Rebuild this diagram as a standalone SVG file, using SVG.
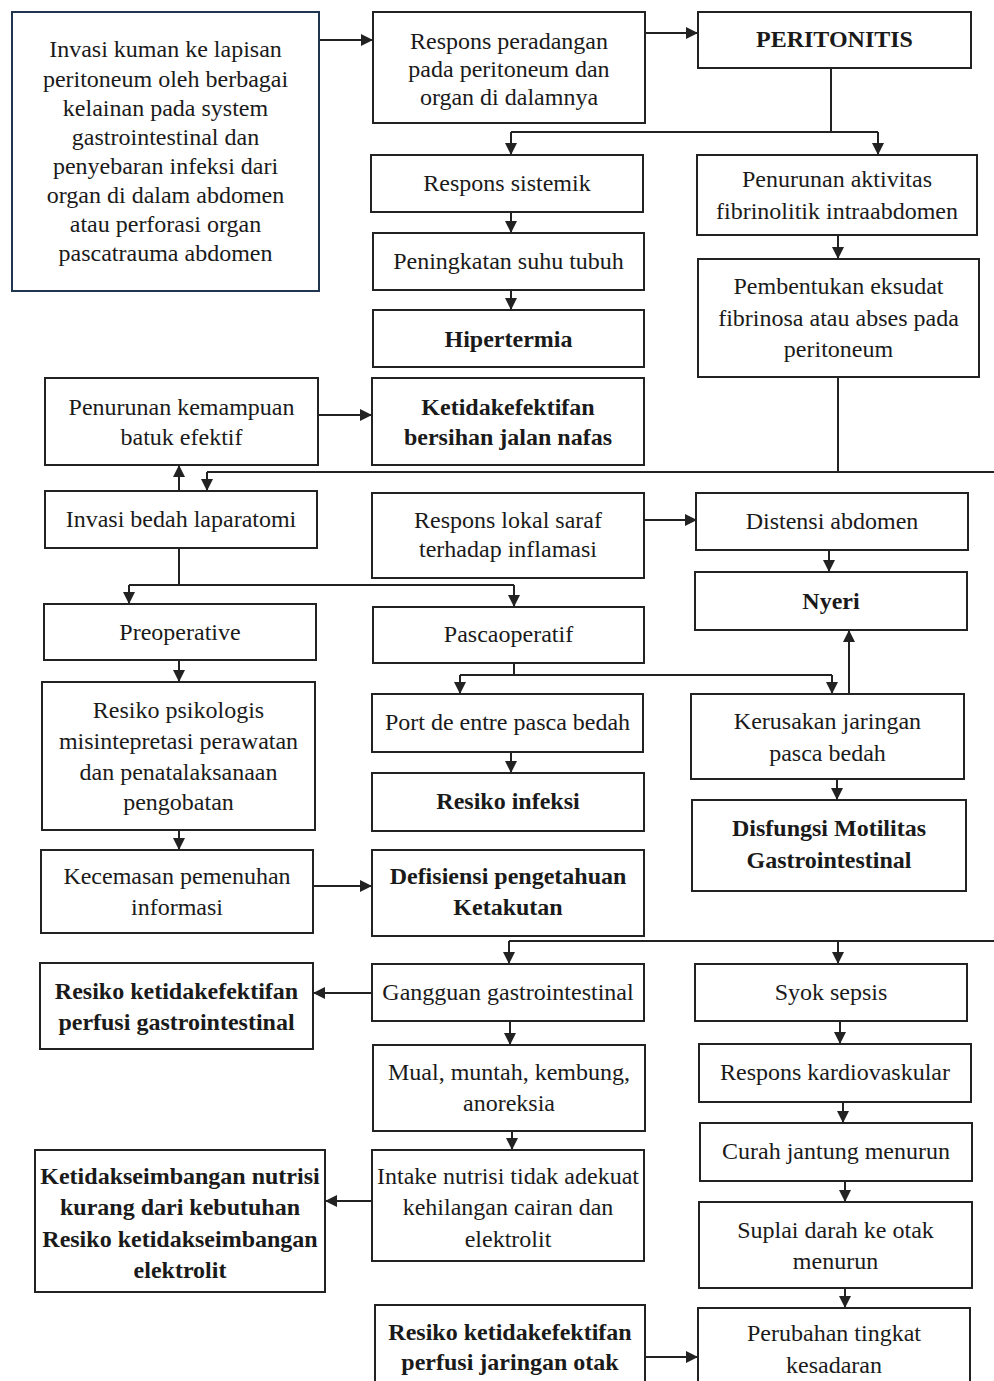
<svg xmlns="http://www.w3.org/2000/svg" width="994" height="1381" viewBox="0 0 994 1381">
<style>
.box{fill:#fff;stroke:#222;stroke-width:2}
.boxa{fill:#fff;stroke:#1f3550;stroke-width:2}
.t{font-family:"Liberation Serif","Times New Roman",serif;font-size:24px;fill:#1a1a1a;text-anchor:middle}
.b{font-weight:bold}
.c{fill:none;stroke:#222;stroke-width:2}
</style>
<defs>
<marker id="ah" markerUnits="userSpaceOnUse" markerWidth="12" markerHeight="12" refX="11" refY="6" orient="auto">
<path d="M0,0 L12,6 L0,12 z" fill="#222"/>
</marker>
</defs>
<rect width="994" height="1381" fill="#fff"/>
<g id="connectors">
<path class="c" d="M319,40 H372" marker-end="url(#ah)"/>
<path class="c" d="M645,33 H697" marker-end="url(#ah)"/>
<path class="c" d="M831,68 V132 M511,132 H878"/>
<path class="c" d="M511,132 V154" marker-end="url(#ah)"/>
<path class="c" d="M878,132 V154" marker-end="url(#ah)"/>
<path class="c" d="M511,212 V232" marker-end="url(#ah)"/>
<path class="c" d="M511,290 V309" marker-end="url(#ah)"/>
<path class="c" d="M838,235 V258" marker-end="url(#ah)"/>
<path class="c" d="M838,377 V472 M207,472 H994"/>
<path class="c" d="M207,472 V490" marker-end="url(#ah)"/>
<path class="c" d="M179,491 V466" marker-end="url(#ah)"/>
<path class="c" d="M318,415 H371" marker-end="url(#ah)"/>
<path class="c" d="M644,520 H696" marker-end="url(#ah)"/>
<path class="c" d="M829,550 V571" marker-end="url(#ah)"/>
<path class="c" d="M179,548 V585 M129,585 H514"/>
<path class="c" d="M129,585 V603" marker-end="url(#ah)"/>
<path class="c" d="M514,585 V606" marker-end="url(#ah)"/>
<path class="c" d="M179,660 V681" marker-end="url(#ah)"/>
<path class="c" d="M514,663 V675 M460,675 H832"/>
<path class="c" d="M460,675 V693" marker-end="url(#ah)"/>
<path class="c" d="M832,675 V693" marker-end="url(#ah)"/>
<path class="c" d="M849,694 V631" marker-end="url(#ah)"/>
<path class="c" d="M511,752 V772" marker-end="url(#ah)"/>
<path class="c" d="M837,779 V799" marker-end="url(#ah)"/>
<path class="c" d="M179,830 V849" marker-end="url(#ah)"/>
<path class="c" d="M313,886 H371" marker-end="url(#ah)"/>
<path class="c" d="M509,941 H994"/>
<path class="c" d="M509,941 V963" marker-end="url(#ah)"/>
<path class="c" d="M838,941 V963" marker-end="url(#ah)"/>
<path class="c" d="M372,993 H314" marker-end="url(#ah)"/>
<path class="c" d="M510,1021 V1044" marker-end="url(#ah)"/>
<path class="c" d="M840,1021 V1043" marker-end="url(#ah)"/>
<path class="c" d="M512,1131 V1149" marker-end="url(#ah)"/>
<path class="c" d="M372,1201 H326" marker-end="url(#ah)"/>
<path class="c" d="M843,1102 V1122" marker-end="url(#ah)"/>
<path class="c" d="M845,1181 V1201" marker-end="url(#ah)"/>
<path class="c" d="M845,1288 V1307" marker-end="url(#ah)"/>
<path class="c" d="M645,1357 H697" marker-end="url(#ah)"/>
</g>
<g id="n-invasi-kuman">
<rect class="boxa" x="12" y="12" width="307" height="279"/>
<text class="t"><tspan x="165.5" y="57">Invasi kuman ke lapisan</tspan><tspan x="165.5" y="87">peritoneum oleh berbagai</tspan><tspan x="165.5" y="116">kelainan pada system</tspan><tspan x="165.5" y="145">gastrointestinal dan</tspan><tspan x="165.5" y="174">penyebaran infeksi dari</tspan><tspan x="165.5" y="203">organ di dalam abdomen</tspan><tspan x="165.5" y="232">atau perforasi organ</tspan><tspan x="165.5" y="261">pascatrauma abdomen</tspan></text>
</g>
<g id="n-respons-peradangan">
<rect class="box" x="373" y="12" width="272" height="111"/>
<text class="t"><tspan x="509" y="49">Respons peradangan</tspan><tspan x="509" y="77">pada peritoneum dan</tspan><tspan x="509" y="105">organ di dalamnya</tspan></text>
</g>
<g id="n-peritonitis">
<rect class="box" x="698" y="12" width="273" height="56"/>
<text class="t b" x="834.5" y="47">PERITONITIS</text>
</g>
<g id="n-respons-sistemik">
<rect class="box" x="371" y="155" width="272" height="57"/>
<text class="t" x="507" y="191">Respons sistemik</text>
</g>
<g id="n-penurunan-fibrinolitik">
<rect class="box" x="697" y="155" width="280" height="80"/>
<text class="t"><tspan x="837" y="187">Penurunan aktivitas</tspan><tspan x="837" y="219">fibrinolitik intraabdomen</tspan></text>
</g>
<g id="n-peningkatan-suhu">
<rect class="box" x="373" y="233" width="271" height="57"/>
<text class="t" x="508.5" y="269">Peningkatan suhu tubuh</text>
</g>
<g id="n-hipertermia">
<rect class="box" x="373" y="310" width="271" height="57"/>
<text class="t b" x="508.5" y="347">Hipertermia</text>
</g>
<g id="n-eksudat">
<rect class="box" x="698" y="259" width="281" height="118"/>
<text class="t"><tspan x="838.5" y="294">Pembentukan eksudat</tspan><tspan x="838.5" y="326">fibrinosa atau abses pada</tspan><tspan x="838.5" y="357">peritoneum</tspan></text>
</g>
<g id="n-batuk">
<rect class="box" x="45" y="378" width="273" height="87"/>
<text class="t"><tspan x="181.5" y="415">Penurunan kemampuan</tspan><tspan x="181.5" y="445">batuk efektif</tspan></text>
</g>
<g id="n-jalan-nafas">
<rect class="box" x="372" y="378" width="272" height="87"/>
<text class="t b"><tspan x="508" y="415">Ketidakefektifan</tspan><tspan x="508" y="445">bersihan jalan nafas</tspan></text>
</g>
<g id="n-laparatomi">
<rect class="box" x="45" y="491" width="272" height="57"/>
<text class="t" x="181" y="527">Invasi bedah laparatomi</text>
</g>
<g id="n-respons-lokal">
<rect class="box" x="372" y="493" width="272" height="85"/>
<text class="t"><tspan x="508" y="528">Respons lokal saraf</tspan><tspan x="508" y="557">terhadap inflamasi</tspan></text>
</g>
<g id="n-distensi">
<rect class="box" x="696" y="493" width="272" height="57"/>
<text class="t" x="832" y="529">Distensi abdomen</text>
</g>
<g id="n-nyeri">
<rect class="box" x="695" y="572" width="272" height="58"/>
<text class="t b" x="831" y="609">Nyeri</text>
</g>
<g id="n-preoperative">
<rect class="box" x="44" y="604" width="272" height="56"/>
<text class="t" x="180" y="640">Preoperative</text>
</g>
<g id="n-pascaoperatif">
<rect class="box" x="373" y="607" width="271" height="56"/>
<text class="t" x="508.5" y="642">Pascaoperatif</text>
</g>
<g id="n-psikologis">
<rect class="box" x="42" y="682" width="273" height="148"/>
<text class="t"><tspan x="178.5" y="718">Resiko psikologis</tspan><tspan x="178.5" y="749">misintepretasi perawatan</tspan><tspan x="178.5" y="780">dan penatalaksanaan</tspan><tspan x="178.5" y="810">pengobatan</tspan></text>
</g>
<g id="n-port">
<rect class="box" x="372" y="694" width="271" height="58"/>
<text class="t" x="507.5" y="730">Port de entre pasca bedah</text>
</g>
<g id="n-kerusakan">
<rect class="box" x="691" y="694" width="273" height="85"/>
<text class="t"><tspan x="827.5" y="729">Kerusakan jaringan</tspan><tspan x="827.5" y="761">pasca bedah</tspan></text>
</g>
<g id="n-resiko-infeksi">
<rect class="box" x="372" y="773" width="272" height="58"/>
<text class="t b" x="508" y="809">Resiko infeksi</text>
</g>
<g id="n-disfungsi">
<rect class="box" x="692" y="800" width="274" height="91"/>
<text class="t b"><tspan x="829" y="836">Disfungsi Motilitas</tspan><tspan x="829" y="868">Gastrointestinal</tspan></text>
</g>
<g id="n-kecemasan">
<rect class="box" x="41" y="850" width="272" height="83"/>
<text class="t"><tspan x="177" y="884">Kecemasan pemenuhan</tspan><tspan x="177" y="915">informasi</tspan></text>
</g>
<g id="n-defisiensi">
<rect class="box" x="372" y="850" width="272" height="86"/>
<text class="t b"><tspan x="508" y="884">Defisiensi pengetahuan</tspan><tspan x="508" y="915">Ketakutan</tspan></text>
</g>
<g id="n-perfusi-gi">
<rect class="box" x="40" y="963" width="273" height="86"/>
<text class="t b"><tspan x="176.5" y="999">Resiko ketidakefektifan</tspan><tspan x="176.5" y="1030">perfusi gastrointestinal</tspan></text>
</g>
<g id="n-gangguan-gi">
<rect class="box" x="372" y="964" width="272" height="57"/>
<text class="t" x="508" y="1000">Gangguan gastrointestinal</text>
</g>
<g id="n-syok">
<rect class="box" x="695" y="964" width="272" height="57"/>
<text class="t" x="831" y="1000">Syok sepsis</text>
</g>
<g id="n-mual">
<rect class="box" x="373" y="1045" width="272" height="86"/>
<text class="t"><tspan x="509" y="1080">Mual, muntah, kembung,</tspan><tspan x="509" y="1111">anoreksia</tspan></text>
</g>
<g id="n-kardiovaskular">
<rect class="box" x="699" y="1044" width="272" height="58"/>
<text class="t" x="835" y="1080">Respons kardiovaskular</text>
</g>
<g id="n-intake">
<rect class="box" x="372" y="1150" width="272" height="111"/>
<text class="t"><tspan x="508" y="1184">Intake nutrisi tidak adekuat</tspan><tspan x="508" y="1215">kehilangan cairan dan</tspan><tspan x="508" y="1247">elektrolit</tspan></text>
</g>
<g id="n-nutrisi">
<rect class="box" x="35" y="1150" width="290" height="142"/>
<text class="t b"><tspan x="180" y="1184">Ketidakseimbangan nutrisi</tspan><tspan x="180" y="1215">kurang dari kebutuhan</tspan><tspan x="180" y="1247">Resiko ketidakseimbangan</tspan><tspan x="180" y="1278">elektrolit</tspan></text>
</g>
<g id="n-curah-jantung">
<rect class="box" x="700" y="1123" width="272" height="58"/>
<text class="t" x="836" y="1159">Curah jantung menurun</text>
</g>
<g id="n-suplai-darah">
<rect class="box" x="699" y="1202" width="273" height="86"/>
<text class="t"><tspan x="835.5" y="1238">Suplai darah ke otak</tspan><tspan x="835.5" y="1269">menurun</tspan></text>
</g>
<g id="n-perfusi-otak">
<rect class="box" x="375" y="1305" width="270" height="80"/>
<text class="t b"><tspan x="510" y="1340">Resiko ketidakefektifan</tspan><tspan x="510" y="1370">perfusi jaringan otak</tspan></text>
</g>
<g id="n-kesadaran">
<rect class="box" x="698" y="1308" width="272" height="80"/>
<text class="t"><tspan x="834" y="1341">Perubahan tingkat</tspan><tspan x="834" y="1373">kesadaran</tspan></text>
</g>
</svg>
